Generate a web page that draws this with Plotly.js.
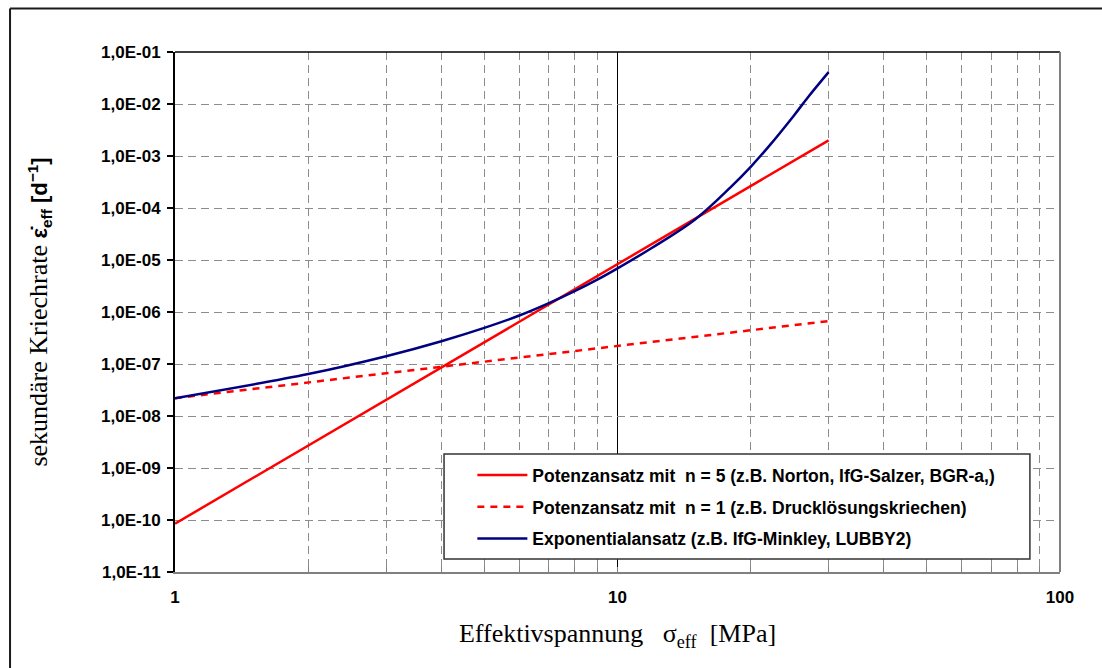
<!DOCTYPE html>
<html>
<head>
<meta charset="utf-8">
<script src="https://cdn.plot.ly/plotly-3.0.1.min.js"></script>
<style>
  html, body { margin: 0; padding: 0; background: #ffffff; overflow: hidden; }
  #chart { width: 1102px; height: 668px; }
</style>
</head>
<body>
<div id="chart"></div>
<script>
// ---- data ----
const stressN5 = [1, 10, 30];
const rateN5 = [8.5e-11, 8.5e-6, 2.0e-3];

const stressN1 = [1, 10, 30];
const rateN1 = [2.2e-8, 2.2e-7, 6.7e-7];

const stressExp = [1, 2, 3, 4, 5, 6, 7, 8, 9, 10, 12, 15, 18, 20, 22, 25, 27, 30];
const rateExp = [2.2e-8, 6.4e-8, 1.41e-7, 2.74e-7, 4.94e-7, 8.55e-7, 1.48e-6, 2.51e-6, 4.18e-6,
                 6.9e-6, 1.74e-5, 6.1e-5, 2.5e-4, 6.2e-4, 1.55e-3, 5.9e-3, 1.38e-2, 4.1e-2];

const seriesNames = [
  'Potenzansatz mit\u00A0 n = 5 (z.B. Norton, IfG-Salzer, BGR-a,)',
  'Potenzansatz mit\u00A0 n = 1 (z.B. Drucklösungskriechen)',
  'Exponentialansatz (z.B. IfG-Minkley, LUBBY2)'
];

const yTickVals = [1e-11, 1e-10, 1e-9, 1e-8, 1e-7, 1e-6, 1e-5, 1e-4, 1e-3, 1e-2, 1e-1];
const yTickText = ['1,0E-11', '1,0E-10', '1,0E-09', '1,0E-08', '1,0E-07', '1,0E-06',
                   '1,0E-05', '1,0E-04', '1,0E-03', '1,0E-02', '1,0E-01'];
const xTickVals = [1, 10, 100];
const xTickText = ['1', '10', '100'];
const xMinorVals = [2, 3, 4, 5, 6, 7, 8, 9, 20, 30, 40, 50, 60, 70, 80, 90];

// ---- traces ----
const traces = [
  {
    x: stressN5, y: rateN5, name: seriesNames[0], type: 'scatter', mode: 'lines',
    line: { color: '#ff0000', width: 2.5 }, legendgroup: 'a'
  },
  {
    x: stressN1, y: rateN1, name: seriesNames[1], type: 'scatter', mode: 'lines',
    line: { color: '#ff0000', width: 2.5, dash: '7px,6px' }, legendgroup: 'b'
  },
  {
    x: stressExp, y: rateExp, name: seriesNames[2], type: 'scatter', mode: 'lines',
    line: { color: '#000080', width: 2.5, shape: 'spline', smoothing: 1 }, legendgroup: 'c'
  }
];

const sans = '"Liberation Sans", Arial, sans-serif';
const serif = '"Liberation Serif", "Times New Roman", serif';

const layout = {
  width: 1102, height: 668,
  margin: { l: 175, r: 42, t: 52, b: 96 },
  paper_bgcolor: '#ffffff', plot_bgcolor: '#ffffff',
  showlegend: true,
  font: { family: sans, color: '#000000' },
  xaxis: {
    type: 'log', range: [0, 2],
    tickmode: 'array', tickvals: xTickVals, ticktext: xTickText,
    tickfont: { family: sans, size: 17, weight: 'bold', color: '#000' },
    ticks: 'inside', ticklen: 5, tickcolor: '#808080', tickwidth: 1,
    ticklabelstandoff: 9,
    showline: true, linecolor: '#808080', linewidth: 1.5, mirror: false,
    showgrid: true, gridcolor: '#000000', gridwidth: 1,
    zeroline: false,
    minor: {
      tickmode: 'array', tickvals: xMinorVals,
      ticks: 'inside', ticklen: 5, tickcolor: '#808080',
      showgrid: true, gridcolor: '#8c8c8c', gridwidth: 1, griddash: '8px,5px'
    },
    title: {
      text: 'Effektivspannung\u00A0\u00A0\u00A0σ<sub>eff</sub>\u00A0\u00A0[MPa]',
      font: { family: serif, size: 26, color: '#000' },
      standoff: 18
    },
    automargin: false
  },
  yaxis: {
    type: 'log', range: [-11, -1],
    tickmode: 'array', tickvals: yTickVals, ticktext: yTickText,
    tickfont: { family: sans, size: 17, weight: 'bold', color: '#000' },
    ticks: 'outside', ticklen: 6, tickcolor: '#000', tickwidth: 1.5,
    ticklabelstandoff: 3,
    showline: true, linecolor: '#000000', linewidth: 2, mirror: false,
    showgrid: true, gridcolor: '#8c8c8c', gridwidth: 1, griddash: '8px,5px',
    zeroline: false,
    title: {
      text: 'sekundäre Kriechrate <span style="font-family:Liberation Sans, Arial, sans-serif;font-weight:bold;font-size:22px">ε\u0307<sub>eff</sub> [d<sup>\u22121</sup>]</span>',
      font: { family: serif, size: 26, color: '#000' },
      standoff: 46
    },
    automargin: false
  },
  legend: {
    x: 0.336, y: 0.221, xanchor: 'left', yanchor: 'top',
    bgcolor: 'rgba(0,0,0,0)', borderwidth: 0,
    font: { family: sans, size: 17.5, weight: 'bold', color: '#000' },
    itemwidth: 50, tracegroupgap: 6, traceorder: 'grouped'
  },
  shapes: [
    // legend frame
    { type: 'rect', xref: 'paper', yref: 'paper', x0: 0.304, x1: 0.966, y0: 0.025, y1: 0.227,
      fillcolor: '#ffffff', line: { color: '#333333', width: 1.5 }, layer: 'above' },
    // top border of plot area
    { type: 'line', xref: 'paper', yref: 'paper', x0: 0, x1: 1, y0: 1, y1: 1,
      line: { color: '#000000', width: 1.5 }, layer: 'above' },
    // right border of plot area
    { type: 'line', xref: 'paper', yref: 'paper', x0: 1, x1: 1, y0: 0, y1: 1,
      line: { color: '#808080', width: 2 }, layer: 'above' },
    // outer frame (left and top)
    { type: 'line', xref: 'paper', yref: 'paper', x0: -0.1864, x1: -0.1864, y0: -0.25, y1: 1.0837,
      line: { color: '#1a1a1a', width: 2 }, layer: 'above' },
    { type: 'line', xref: 'paper', yref: 'paper', x0: -0.1864, x1: 1.1, y0: 1.0837, y1: 1.0837,
      line: { color: '#1a1a1a', width: 2 }, layer: 'above' }
  ]
};

Plotly.newPlot('chart', traces, layout, { displayModeBar: false, staticPlot: true });
</script>
</body>
</html>
